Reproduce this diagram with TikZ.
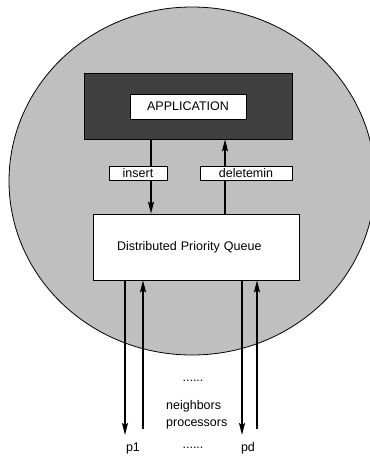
\documentclass[tikz,border=0pt]{standalone}
\usepackage{fontspec}
\setmainfont{Liberation Sans}
\usepackage{xcolor}
\usepackage{tikz}
\usetikzlibrary{positioning,arrows.meta,shapes.geometric}
\definecolor{hostgray}{gray}{0.75}
\definecolor{appdark}{gray}{0.25}
\tikzset{
  host/.style={draw, ellipse, fill=hostgray, line width=0.8pt, minimum width=366pt, minimum height=348pt, inner sep=0pt},
  panel/.style={draw, fill=appdark, line width=0.6pt, minimum width=208pt, minimum height=66pt, inner sep=0pt},
  box/.style={draw, fill=white, line width=0.6pt, font=\fontsize{12.5}{15}\selectfont, inner sep=0pt},
  tag/.style={draw, fill=white, line width=0.6pt, minimum height=14pt, font=\fontsize{12.5}{15}\selectfont, inner sep=0pt},
  lbl/.style={font=\fontsize{12.5}{17}\selectfont, inner sep=0pt},
  flow/.style={-{Stealth[length=12pt,width=6pt,inset=2pt]}, line width=1.6pt},
}

\begin{document}
\begin{tikzpicture}[x=1pt,y=-1pt]
\useasboundingbox (0,0) rectangle (370,456);
\node[host] (host) at (192,181) {};
\node[panel] (appbg) at (188,106) {};
\node[box, minimum width=116pt, minimum height=25pt] (app) at (188,106.5) {APPLICATION};
\node[box, minimum height=66pt, text width=158pt, inner xsep=24pt, align=left] (dpq) at (196,247) {Distributed Priority Queue};
\draw[flow] ([xshift=-37pt]appbg.south) -- ([xshift=-37pt]appbg.south |- dpq.north);
\draw[flow] ([xshift=37pt]appbg.south |- dpq.north) -- ([xshift=37pt]appbg.south);
\node[tag, minimum width=58pt] (ins) at (138,173) {insert};
\node[tag, minimum width=92pt] (del) at (246,173) {deletemin};
% links to the neighbours
\coordinate (d1) at (125,435);
\coordinate (u1) at (143,429);
\coordinate (d2) at (242,435);
\coordinate (u2) at (257,429);
\draw[flow] (d1 |- dpq.south) -- (d1);
\draw[flow] (u1) -- (u1 |- dpq.south);
\draw[flow] (d2 |- dpq.south) -- (d2);
\draw[flow] (u2) -- (u2 |- dpq.south);
\node[lbl] (dotsup) at (193,381) {......};
\node[lbl, anchor=west, align=left] (nbr) at (166,414.5) {neighbors\\processors};
\node[lbl] (p1) at (133,448) {p1};
\node[lbl] (dotsdn) at (193,448) {......};
\node[lbl] (pd) at (248,448) {pd};
\end{tikzpicture}
\end{document}
